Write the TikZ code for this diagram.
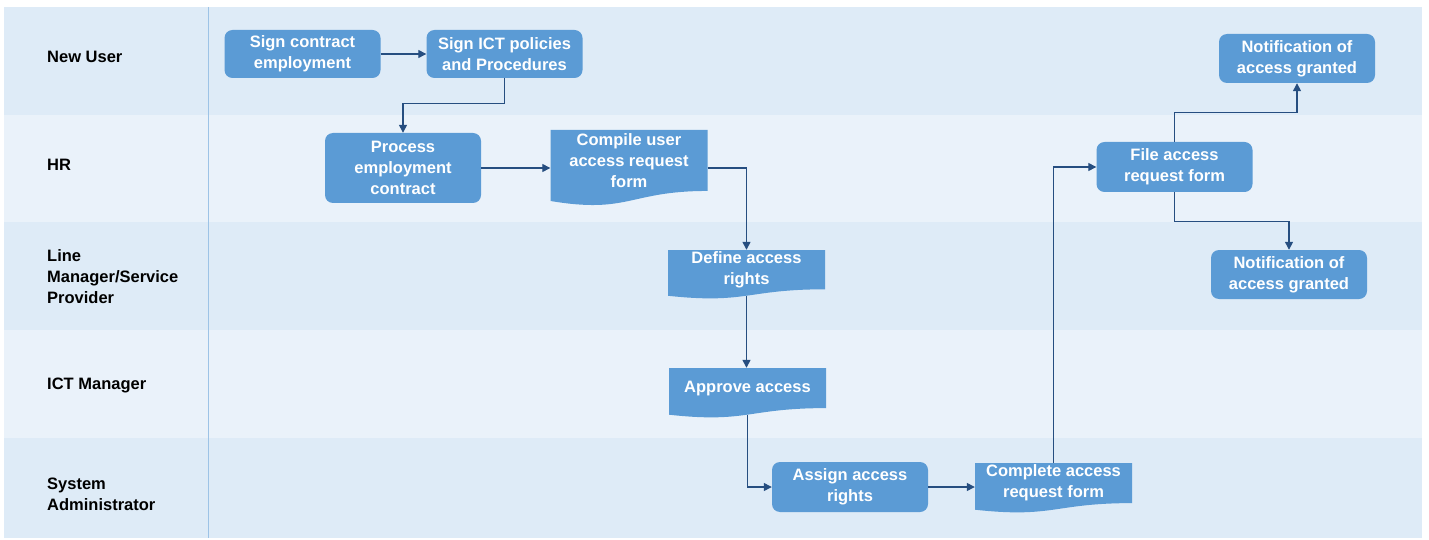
\documentclass[tikz,border=0pt]{standalone}
\usepackage{fontspec}
\setmainfont{Liberation Sans}
\usetikzlibrary{arrows.meta}
\definecolor{lanedark}{RGB}{222,235,247}
\definecolor{lanelight}{RGB}{234,242,250}
\definecolor{boxblue}{RGB}{91,155,213}
\definecolor{linkblue}{RGB}{38,78,128}
\definecolor{rulecol}{RGB}{157,195,230}
\tikzset{
  boxfont/.style={font=\bfseries\fontsize{16.5}{21}\selectfont},
  procnode/.style={boxfont, fill=boxblue, rounded corners=8pt, text=white, align=center, minimum width=156, inner sep=0pt},
  docnode/.style={boxfont, text=white, align=center, minimum width=157, inner sep=0pt},
  lanelabel/.style={boxfont, anchor=west, align=left, inner sep=0pt},
  conn/.style={line width=1.3pt, linkblue, -{Triangle[length=8pt,width=8pt]}}
}
\newcommand{\lane}[3]{\fill[#3] (4,#1) rectangle (1422,#2);}
\newcommand{\procbox}[5]{\node[procnode,minimum height=#4] (#1) at (#2,#3) {#5};}
\newcommand{\docbox}[5]{\fill[boxblue] (#2-78.5,#3) -- (#2+78.5,#3) -- (#2+78.5,#3+0.802*#4)
    .. controls (#2,#3+0.802*#4) and (#2,#3+1.107*#4) .. (#2-78.5,#3+0.934*#4) -- cycle;
  \node[docnode,minimum height=0.802*#4] (#1) at (#2,#3+0.401*#4) {#5};
  \coordinate (#1-b) at (#2,#3+0.933*#4);}

\begin{document}
\begin{tikzpicture}[x=1pt,y=-1pt]
    \useasboundingbox (0,0) rectangle (1429,540);
    % swimlanes
    \lane{7}{115}{lanedark}   \lane{115}{222}{lanelight}
    \lane{222}{330}{lanedark} \lane{330}{438}{lanelight}
    \lane{438}{538}{lanedark}
    \draw[rulecol, line width=1pt] (208,7) -- (208,538);
    \node[lanelabel] (lnuser) at (47,57) {New User};
    \node[lanelabel] (lnhr) at (47,165) {HR};
    \node[lanelabel] (lnline) at (47,277) {Line\\Manager/Service\\Provider};
    \node[lanelabel] (lnict) at (47,385) {ICT Manager};
    \node[lanelabel] (lnsys) at (47,494) {System\\Administrator};

    % steps
    \procbox{sign}{302.5}{54}{48}{Sign contract\\employment}
    \procbox{ict}{504.5}{54}{48}{Sign ICT policies\\and Procedures}
    \procbox{process}{403}{168}{70}{Process\\employment\\contract}
    \docbox{compile}{629}{130}{76}{Compile user\\access request\\form}
    \docbox{define}{746.5}{250}{49}{Define access\\rights}
    \docbox{approve}{747.5}{368}{50}{Approve access}
    \procbox{assign}{850}{487}{50}{Assign access\\rights}
    \docbox{complete}{1053.5}{463}{50}{Complete access\\request form}
    \procbox{file}{1174.5}{167}{50}{File access\\request form}
    \procbox{notifA}{1297}{58.5}{49}{Notification of\\access granted}
    \procbox{notifB}{1289}{274.5}{49}{Notification of\\access granted}

    % flow
    \draw[conn] (sign) -- (ict);
    \draw[conn] (ict.south) -- ++(0,25) -| (process.north);
    \draw[conn] (process.east) -- (process.east -| compile.west);
    \draw[conn] (compile.east |- process.east) -| (define.north);
    \draw[conn] (define-b) -- (define-b |- approve.north);
    \draw[conn] (approve-b) |- (assign.west);
    \draw[conn] (assign.east) -- (assign.east -| complete.west);
    \draw[conn] (complete.north) |- (file.west);
    \draw[conn] (file.north) -- ++(0,-29) -| (notifA.south);
    \draw[conn] (file.south) -- ++(0,29) -| (notifB.north);
\end{tikzpicture}
\end{document}
